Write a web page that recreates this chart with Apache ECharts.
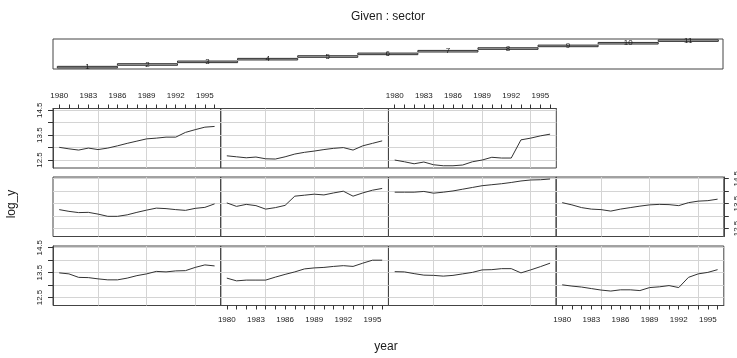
<!DOCTYPE html>
<html><head><meta charset="utf-8">
<script src="https://cdn.jsdelivr.net/npm/echarts@6/dist/echarts.min.js"></script>
<style>html,body{margin:0;padding:0;background:#fff}#c{width:737px;height:358px}</style>
</head><body><div id="c"></div>
<script>
const years = [1980,1981,1982,1983,1984,1985,1986,1987,1988,1989,1990,1991,1992,1993,1994,1995,1996];
const xTickLabels = [1980,1983,1986,1989,1992,1995];
const xGridYears = [1984,1989,1994];
const yTicks = [12.5,13,13.5,14,14.5];
const yTickLabels = [12.5,13.5,14.5];
const sectorLabels = ['1','2','3','4','5','6','7','8','9','10','11'];
const sectorLo = [0.5,1.5,2.5,3.5,4.5,5.5,6.5,7.5,8.5,9.5,10.5];
const sectorHi = [1.5,2.5,3.5,4.5,5.5,6.5,7.5,8.5,9.5,10.5,11.5];

const s1 = [13.49,13.45,13.31,13.30,13.25,13.21,13.21,13.28,13.38,13.45,13.55,13.53,13.57,13.58,13.71,13.81,13.77];
const s2 = [13.28,13.17,13.20,13.20,13.20,13.32,13.43,13.53,13.65,13.69,13.71,13.75,13.78,13.75,13.88,14.00,14.00];
const s3 = [13.54,13.53,13.46,13.40,13.39,13.36,13.39,13.45,13.51,13.61,13.62,13.66,13.66,13.49,13.61,13.74,13.88];
const s4 = [13.01,12.96,12.92,12.86,12.80,12.76,12.81,12.81,12.78,12.90,12.93,12.98,12.90,13.31,13.45,13.51,13.62];
const s5 = [13.26,13.19,13.14,13.15,13.08,12.99,12.99,13.05,13.15,13.24,13.32,13.30,13.26,13.23,13.31,13.35,13.49];
const s6 = [13.53,13.39,13.47,13.42,13.28,13.34,13.43,13.80,13.84,13.88,13.85,13.93,14.00,13.80,13.93,14.04,14.11];
const s7 = [13.96,13.96,13.96,13.99,13.92,13.96,14.01,14.08,14.15,14.22,14.26,14.30,14.35,14.41,14.45,14.46,14.49];
const s8 = [13.54,13.45,13.34,13.28,13.26,13.20,13.28,13.34,13.40,13.45,13.47,13.46,13.42,13.54,13.60,13.62,13.68];
const s9 = [13.01,12.95,12.90,12.98,12.92,12.98,13.07,13.17,13.26,13.35,13.38,13.42,13.42,13.61,13.72,13.82,13.85];
const s10 = [12.67,12.63,12.59,12.62,12.55,12.54,12.63,12.74,12.81,12.86,12.92,12.97,13.00,12.90,13.07,13.17,13.27];
const s11 = [12.50,12.43,12.35,12.42,12.31,12.27,12.27,12.30,12.43,12.50,12.61,12.58,12.58,13.31,13.38,13.47,13.54];
const seriesValues = [s1,s2,s3,s4,s5,s6,s7,s8,s9,s10,s11];

const FONT = 'Liberation Sans, Arial, sans-serif';
const TXT = '#1a1a1a';
const BORDER = '#444';
const GRIDC = '#d4d4d4';
const colLeft = [53, 220.6, 388.5, 556];
const colW = 167.8;
const rowTop = [246, 177, 108.5]; // bottom, middle, top
const rowH = 59.5;
const XMIN = 1979.36, XMAX = 1996.64, YMIN = 12.18, YMAX = 14.57;

const grids = [], xAxes = [], yAxes = [], series = [];
for (let i = 0; i < 11; i++) {
  const col = i % 4, row = Math.floor(i / 4);
  grids.push({left: colLeft[col], top: rowTop[row], width: colW, height: rowH,
    show: true, borderColor: BORDER, borderWidth: 1, backgroundColor: 'transparent',
    containLabel: false, outerBoundsMode: 'none'});
  let xPos = null;
  if (row === 2 && (col === 0 || col === 2)) xPos = 'top';
  if (row === 0 && (col === 1 || col === 3)) xPos = 'bottom';
  const showX = xPos !== null;
  xAxes.push({type: 'value', gridIndex: i, min: XMIN, max: XMAX,
    position: xPos || 'bottom',
    axisLine: {show: showX, lineStyle: {color: BORDER}},
    axisTick: {show: showX, length: 4, inside: false, customValues: years, lineStyle: {color: '#333'}},
    axisLabel: {show: showX, customValues: xTickLabels, formatter: v => String(Math.round(v)),
      fontSize: 8, color: TXT, fontFamily: FONT, margin: xPos === 'top' ? 9 : 10},
    splitLine: {show: false}});
  xAxes.push({type: 'value', gridIndex: i, min: XMIN, max: XMAX,
    position: xPos === 'bottom' ? 'top' : 'bottom',
    axisLine: {show: false}, axisLabel: {show: false},
    axisTick: {show: false, customValues: xGridYears},
    splitLine: {show: true, lineStyle: {color: GRIDC, width: 1}}});
  let yPos = null;
  if ((row === 0 || row === 2) && col === 0) yPos = 'left';
  if (row === 1 && col === 3) yPos = 'right';
  const showY = yPos !== null;
  yAxes.push({type: 'value', gridIndex: i, min: YMIN, max: YMAX,
    position: yPos || 'left',
    axisLine: {show: showY, lineStyle: {color: BORDER}},
    axisTick: {show: showY, length: 5, customValues: yTicks, lineStyle: {color: '#333'}},
    axisLabel: {show: showY, customValues: yTickLabels, rotate: 90, formatter: v => v.toFixed(1),
      fontSize: 8, color: TXT, fontFamily: FONT, margin: 9},
    splitLine: {show: true, lineStyle: {color: GRIDC, width: 1}}});
  series.push({type: 'line', xAxisIndex: 2 * i, yAxisIndex: i,
    data: years.map((y, k) => [y, seriesValues[i][k]]),
    showSymbol: false, symbol: 'none', silent: true, z: 5,
    lineStyle: {color: '#333', width: 1}});
}

// given panel
grids.push({left: 53, top: 39, width: 670, height: 30, show: true, borderColor: BORDER, borderWidth: 1,
  containLabel: false, outerBoundsMode: 'none'});
xAxes.push({type: 'value', gridIndex: 11, min: 0.428, max: 11.578, show: false});
yAxes.push({type: 'value', gridIndex: 11, min: 0.3, max: 11.6, show: false});
series.push({type: 'custom', xAxisIndex: 22, yAxisIndex: 11, silent: true,
  data: sectorLabels.map((s, k) => [sectorLo[k], sectorHi[k], k + 1, s]),
  renderItem: function (params, api) {
    const lo = api.coord([api.value(0), api.value(2) + 0.3]);
    const hi = api.coord([api.value(1), api.value(2) - 0.3]);
    const mid = api.coord([(api.value(0) + api.value(1)) / 2, api.value(2)]);
    return {type: 'group', children: [
      {type: 'rect', shape: {x: lo[0], y: lo[1], width: hi[0] - lo[0], height: hi[1] - lo[1]},
        style: {fill: '#bebebe', stroke: '#333', lineWidth: 1}},
      {type: 'text', x: mid[0], y: mid[1], style: {text: sectorLabels[params.dataIndex],
        fontSize: 8, fill: TXT, fontFamily: FONT, align: 'center', verticalAlign: 'middle'}}
    ]};
  }});

const chart = echarts.init(document.getElementById('c'), null, {renderer: 'canvas'});
chart.setOption({
  animation: false,
  backgroundColor: '#fff',
  grid: grids, xAxis: xAxes, yAxis: yAxes, series: series,
  graphic: [
    {type: 'text', x: 388, y: 17, style: {text: 'Given : sector', fontSize: 12, fill: TXT, fontFamily: FONT, align: 'center', verticalAlign: 'middle'}},
    {type: 'text', x: 386, y: 347, style: {text: 'year', fontSize: 12, fill: TXT, fontFamily: FONT, align: 'center', verticalAlign: 'middle'}},
    {type: 'text', x: 12, y: 204, rotation: Math.PI / 2, style: {text: 'log_y', fontSize: 12, fill: TXT, fontFamily: FONT, align: 'center', verticalAlign: 'middle'}}
  ]
});
</script></body></html>
